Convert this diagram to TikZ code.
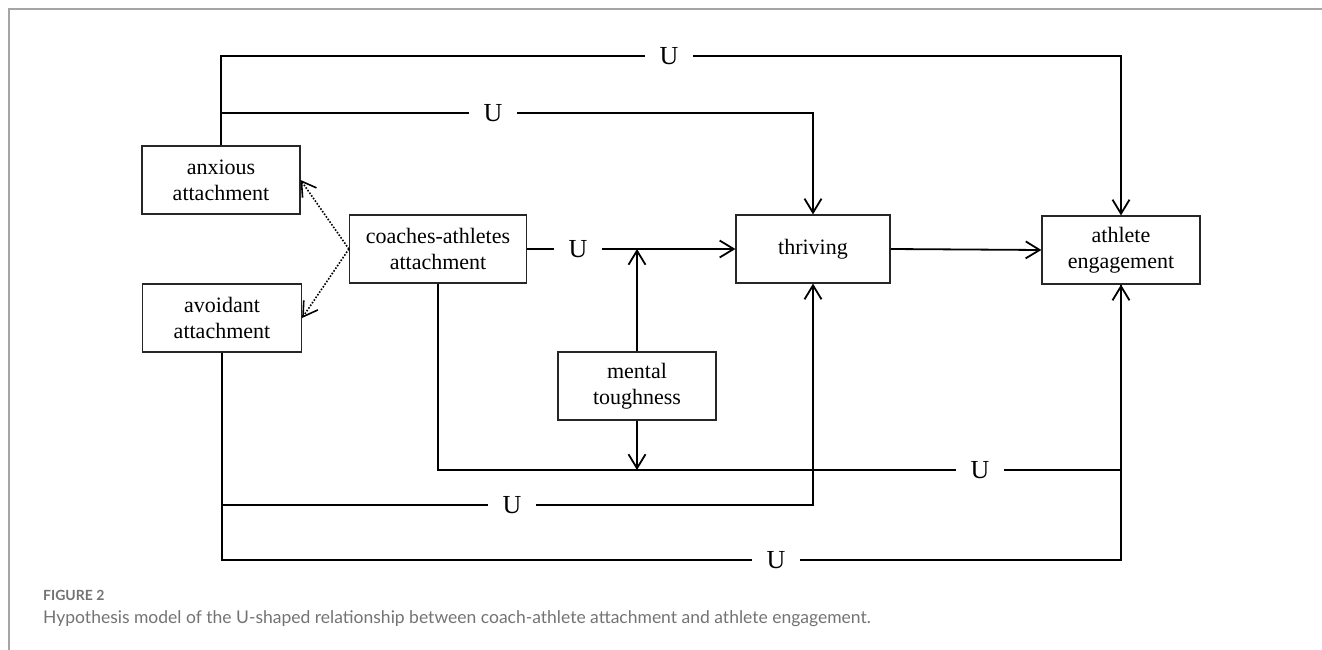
\documentclass[tikz,border=0pt]{standalone}
\usepackage{fontspec}
\setmainfont{Liberation Serif}
\newfontfamily\capfont{Lato}
\usetikzlibrary{arrows.meta}
\definecolor{framegray}{RGB}{165,165,165}
\definecolor{capgray}{RGB}{115,115,115}
\begin{document}
\begin{tikzpicture}[x=1pt,y=-1pt,
  box/.style={draw=black!85, line width=1.2pt, inner sep=0pt, align=center,
    font=\fontsize{22}{26}\selectfont, minimum height=68pt},
  ulab/.style={inner xsep=15pt, inner ysep=0pt, outer sep=0pt,
    font=\fontsize{26}{26}\selectfont},
  conn/.style={line width=1.8pt, black},
  arr/.style={-{Straight Barb[length=14pt,width=17pt]}},
  dotarr/.style={line width=1.6pt, black, dash pattern=on 1.6pt off 1.6pt,
    -{Straight Barb[length=14pt,width=17pt]}}]
\useasboundingbox (0,0) rectangle (1322,650);
% frame
\draw[framegray, line width=1.3pt] (9,650) -- (9,9) -- (1322,9);
% boxes
\node[box, minimum width=158pt] (anx) at (221,180) {anxious\\attachment};
\node[box, minimum width=159pt] (avo) at (222,318) {avoidant\\attachment};
\node[box, minimum width=177pt] (coach) at (438,249) {coaches-athletes\\attachment};
\node[box, minimum width=154pt] (thr) at (813,249) {thriving};
\node[box, minimum width=158pt] (eng) at (1121,250) {athlete\\engagement};
\node[box, minimum width=158pt] (mt) at (637,386) {mental\\toughness};
% U labels
\node[ulab] (u1) at (669,56) {U};
\node[ulab] (u2) at (493,113) {U};
\node[ulab] (u3) at (578,249) {U};
\node[ulab] (u4) at (980,470) {U};
\node[ulab] (u5) at (512,505) {U};
\node[ulab] (u6) at (776,560) {U};
% junctions
\coordinate (j1) at (221,113);
\coordinate (j2) at (222,505);
\coordinate (m1) at (637,249);
\coordinate (m2) at (637,470);
% connectors
\draw[conn] (anx.north) |- (u1.west);
\draw[conn,arr] (u1.east) -| (eng.north);
\draw[conn] (j1) -- (u2.west);
\draw[conn,arr] (u2.east) -| (thr.north);
\draw[conn] (coach.east) -- (u3.west);
\draw[conn,arr] (u3.east) -- (thr.west);
\draw[conn,arr] (thr.east) -- (eng.west);
\draw[conn,arr] (mt.north) -- (m1);
\draw[conn,arr] (mt.south) -- (m2);
\draw[conn] (coach.south) |- (u4.west);
\draw[conn] (u4.east) -| (eng.south);
\draw[conn] (avo.south) |- (u6.west);
\draw[conn,arr] (u6.east) -| (eng.south);
\draw[conn] (j2) -- (u5.west);
\draw[conn,arr] (u5.east) -| (thr.south);
\draw[dotarr] (coach.west) -- (anx.east);
\draw[dotarr] (coach.west) -- (avo.east);
% caption
\node[anchor=west, inner sep=0pt, text=capgray, font=\capfont\bfseries\fontsize{14}{16}\selectfont] (fig) at (43,595) {FIGURE 2};
\node[anchor=west, inner sep=0pt, text=capgray, font=\capfont\fontsize{17.5}{20}\selectfont] (cap) at (43,619) {Hypothesis model of the U-shaped relationship between coach-athlete attachment and athlete engagement.};
\end{tikzpicture}
\end{document}
